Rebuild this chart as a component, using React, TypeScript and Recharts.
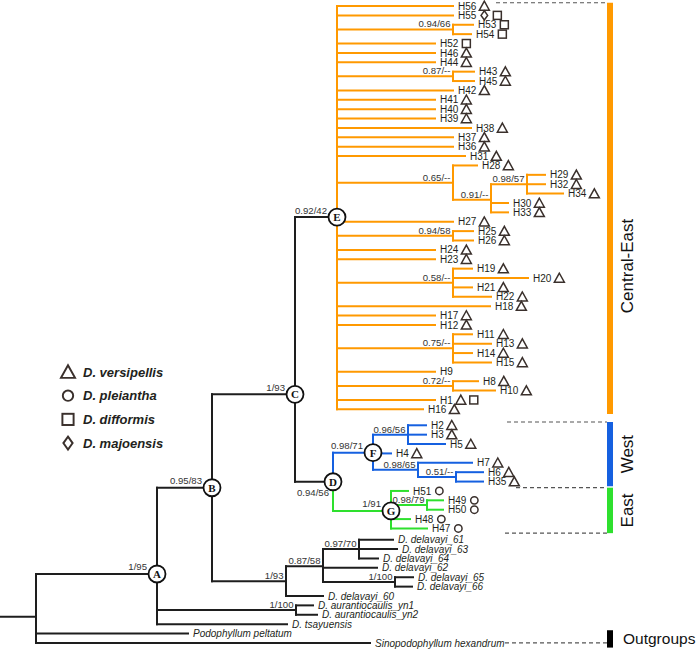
import React from 'react';
import { ScatterChart, XAxis, YAxis, Scatter, ReferenceLine, ReferenceArea } from 'recharts';

// internal nodes: [id, parent, depth from root]
const INTERNAL_NODES: [string, string | null, number][] = [
  ['root', null, 0],
  ['O', 'root', 36],
  ['A', 'O', 157],
  ['B', 'A', 212],
  ['C', 'B', 295],
  ['E', 'C', 337],
  ['D', 'C', 333],
  ['F', 'D', 373],
  ['G', 'D', 391],
  ['e1', 'E', 453],
  ['e2', 'E', 453],
  ['e3', 'E', 453],
  ['e4', 'e3', 491],
  ['e5', 'e4', 527],
  ['e6', 'E', 453],
  ['e7', 'E', 453],
  ['e8', 'E', 453],
  ['e9', 'E', 453],
  ['f1', 'F', 408],
  ['f2', 'F', 418],
  ['f3', 'f2', 456],
  ['g1', 'G', 427],
  ['dl', 'B', 286],
  ['d2', 'dl', 323],
  ['d3', 'd2', 359],
  ['d4', 'd2', 395],
  ['au', 'A', 296],
];

// tips top to bottom: [name, parent, depth, species marks]
// T = D. versipellis, C = D. pleiantha, S = D. difformis, M = D. majoensis
const LEAVES: [string, string, number, string][] = [
  ['H56', 'E', 453, 'T'],
  ['H55', 'E', 453, 'MS'],
  ['H53', 'e1', 473, 'S'],
  ['H54', 'e1', 471, 'S'],
  ['H52', 'E', 435, 'S'],
  ['H46', 'E', 435, 'T'],
  ['H44', 'E', 435, 'T'],
  ['H43', 'e2', 474, 'T'],
  ['H45', 'e2', 474, 'T'],
  ['H42', 'E', 453, 'T'],
  ['H41', 'E', 435, 'T'],
  ['H40', 'E', 435, 'T'],
  ['H39', 'E', 435, 'T'],
  ['H38', 'E', 471, 'T'],
  ['H37', 'E', 453, 'T'],
  ['H36', 'E', 453, 'T'],
  ['H31', 'E', 465, 'T'],
  ['H28', 'e3', 477, 'T'],
  ['H29', 'e5', 545, 'T'],
  ['H32', 'e5', 545, 'T'],
  ['H34', 'e5', 563, 'T'],
  ['H30', 'e4', 508, 'T'],
  ['H33', 'e4', 508, 'T'],
  ['H27', 'E', 453, 'T'],
  ['H25', 'e6', 473, 'T'],
  ['H26', 'e6', 473, 'T'],
  ['H24', 'E', 435, 'T'],
  ['H23', 'E', 435, 'T'],
  ['H19', 'e7', 472, 'T'],
  ['H20', 'e7', 528, 'T'],
  ['H21', 'e7', 472, 'T'],
  ['H22', 'e7', 491, 'T'],
  ['H18', 'E', 490, 'T'],
  ['H17', 'E', 435, 'T'],
  ['H12', 'E', 435, 'T'],
  ['H11', 'e8', 472, 'T'],
  ['H13', 'e8', 491, 'T'],
  ['H14', 'e8', 472, 'T'],
  ['H15', 'e8', 491, 'T'],
  ['H9', 'E', 435, ''],
  ['H8', 'e9', 478, 'T'],
  ['H10', 'e9', 495, 'T'],
  ['H1', 'E', 435, 'TS'],
  ['H16', 'E', 423, 'T'],
  ['H2', 'f1', 426, 'T'],
  ['H3', 'f1', 426, 'T'],
  ['H5', 'f1', 445, 'T'],
  ['H4', 'F', 391, 'T'],
  ['H7', 'f2', 472, 'T'],
  ['H6', 'f3', 483, 'T'],
  ['H35', 'f3', 483, 'T'],
  ['H51', 'G', 408, 'C'],
  ['H49', 'g1', 443, 'C'],
  ['H50', 'g1', 443, 'C'],
  ['H48', 'G', 410, 'C'],
  ['H47', 'G', 427, 'C'],
  ['D. delavayi_61', 'd3', 393, ''],
  ['D. delavayi_63', 'd3', 397, ''],
  ['D. delavayi_64', 'd3', 378, ''],
  ['D. delavayi_62', 'd2', 377, ''],
  ['D. delavayi_65', 'd4', 413, ''],
  ['D. delavayi_66', 'd4', 412, ''],
  ['D. delavayi_60', 'dl', 323, ''],
  ['D. aurantiocaulis_yn1', 'au', 313, ''],
  ['D. aurantiocaulis_yn2', 'au', 317, ''],
  ['D. tsayuensis', 'A', 287, ''],
  ['Podophyllum peltatum', 'O', 188, ''],
  ['Sinopodophyllum hexandrum', 'O', 370, ''],
];

// posterior probability / bootstrap
const SUPPORT: Record<string, string> = {
  A: '1/95', B: '0.95/83', C: '1/93', D: '0.94/56', E: '0.92/42', F: '0.98/71', G: '1/91',
  e1: '0.94/66', e2: '0.87/--', e3: '0.65/--', e4: '0.91/--', e5: '0.98/57', e6: '0.94/58',
  e7: '0.58/--', e8: '0.75/--', e9: '0.72/--',
  f1: '0.96/56', f2: '0.98/65', f3: '0.51/--', g1: '0.98/79',
  dl: '1/93', d2: '0.87/58', d3: '0.97/70', d4: '1/100', au: '1/100',
};

const CLADE_LETTERS = ['A', 'B', 'C', 'D', 'E', 'F', 'G'];

// extra spacing after some tips, and rows of nodes moved by hand in the figure
const ROW_GAPS: Record<string, number> = { H16: 0.7, H47: 0.2 };
const ROW_OVERRIDES: Record<string, number> = { E: 22.5, C: 41.4 };

const GROUPS = [
  { name: 'Central-East', first: 'H56', last: 'H16' },
  { name: 'West', first: 'H2', last: 'H35' },
  { name: 'East', first: 'H51', last: 'H47' },
  { name: 'Outgroups', first: 'Podophyllum peltatum', last: 'Sinopodophyllum hexandrum' },
];

const LEGEND_ITEMS = [
  { mark: 'T', label: 'D. versipellis' },
  { mark: 'C', label: 'D. pleiantha' },
  { mark: 'S', label: 'D. difformis' },
  { mark: 'M', label: 'D. majoensis' },
];

// ---- styles / layout
const ORANGE = '#FF9900';
const BLUE = '#1560E0';
const GREEN = '#2EE02E';
const BLACK = '#1e1e1e';
const MARK = '#3a302c';
const GROUP_COLORS: Record<string, string> = {
  'Central-East': ORANGE, West: BLUE, East: GREEN, Outgroups: '#000',
};
const W = 697;
const H = 650;
const ROW_PX = 9.38;
const TOP_PX = 6;
const FONT = '"Liberation Sans", Arial, sans-serif';

// ---- tree layout
const parentOf: Record<string, string | null> = {};
const depthOf: Record<string, number> = {};
const children: Record<string, string[]> = {};
INTERNAL_NODES.forEach(([id, p, d]) => {
  parentOf[id] = p;
  depthOf[id] = d;
  if (p) (children[p] = children[p] || []).push(id);
});
const rowOf: Record<string, number> = {};
let gap = 0;
LEAVES.forEach(([name, p, d], i) => {
  parentOf[name] = p;
  depthOf[name] = d;
  (children[p] = children[p] || []).push(name);
  rowOf[name] = i + gap;
  gap += ROW_GAPS[name] ?? 0;
});
const calcRow = (id: string): number => {
  if (rowOf[id] !== undefined) return rowOf[id];
  const ks = children[id].map(calcRow);
  rowOf[id] = ROW_OVERRIDES[id] ?? ks.reduce((a, b) => a + b, 0) / ks.length;
  return rowOf[id];
};
calcRow('root');

const branchColor = (id: string) => {
  let cur: string | null = id;
  while (cur) {
    if (cur === 'F') return BLUE;
    if (cur === 'G') return GREEN;
    const p: string | null = parentOf[cur];
    if (p === 'E') return ORANGE;
    cur = p;
  }
  return BLACK;
};

const segments: { a: any; b: any; color: string }[] = [];
Object.keys(parentOf).forEach((id) => {
  const p = parentOf[id];
  if (!p) return;
  const color = branchColor(id);
  if (rowOf[p] !== rowOf[id]) {
    segments.push({ a: { x: depthOf[p], y: rowOf[p] }, b: { x: depthOf[p], y: rowOf[id] }, color });
  }
  segments.push({ a: { x: depthOf[p], y: rowOf[id] }, b: { x: depthOf[id], y: rowOf[id] }, color });
});

const leafPoints = LEAVES.map(([name, , , marks]) => ({ x: depthOf[name], y: rowOf[name], name, marks }));
const supportPoints = Object.keys(SUPPORT).map((id) => ({ x: depthOf[id], y: rowOf[id], id, text: SUPPORT[id] }));
const letterPoints = CLADE_LETTERS.map((id) => ({ x: depthOf[id], y: rowOf[id], id }));

const groupBars = GROUPS.map((g) => ({ ...g, top: rowOf[g.first] - 0.35, bottom: rowOf[g.last] + 0.5 }));
const barOf = (n: string) => groupBars.find((g) => g.name === n)!;
const DASH_LINES = [
  { row: barOf('Central-East').top, from: 496 },
  { row: barOf('West').top, from: 507 },
  { row: barOf('East').top, from: 516 },
  { row: barOf('East').bottom, from: 505 },
  { row: rowOf['Sinopodophyllum hexandrum'], from: 505 },
];
const BAR_X = [607, 613];

const textWidth = (s: string) =>
  s.split('').reduce((w, c) => w + (c === 'H' ? 7.22 : 5.56), 0);

const Mark = ({ kind, x, y, k = 1 }: { kind: string; x: number; y: number; k?: number }) => {
  const sw = 1.5 * (k > 1 ? 1.3 : 1);
  if (kind === 'T')
    return <polygon points={`${x},${y - 4.8 * k} ${x - 5 * k},${y + 4.2 * k} ${x + 5 * k},${y + 4.2 * k}`} fill="none" stroke={MARK} strokeWidth={sw} strokeLinejoin="miter" />;
  if (kind === 'S')
    return <rect x={x - 4 * k} y={y - 4 * k} width={8 * k} height={8 * k} fill="none" stroke={MARK} strokeWidth={sw} />;
  if (kind === 'C') return <circle cx={x} cy={y} r={3.7 * k} fill="none" stroke={MARK} strokeWidth={sw} />;
  return <polygon points={`${x},${y - 4.6 * k} ${x + 3.3 * k},${y} ${x},${y + 4.6 * k} ${x - 3.3 * k},${y}`} fill="none" stroke={MARK} strokeWidth={sw} />;
};

const LeafShape = (props: any) => {
  const { cx, cy, payload } = props;
  const isHap = /^H\d/.test(payload.name);
  const tx = cx + 5;
  const mx = tx + textWidth(payload.name) + 8;
  return (
    <g>
      <text x={tx} y={cy + 3.6} fontSize={10} fontFamily={FONT} fontStyle={isHap ? 'normal' : 'italic'} fill="#231f20">
        {payload.name}
      </text>
      {isHap && payload.marks.split('').map((m: string, i: number) => <Mark key={i} kind={m} x={mx + i * 13} y={cy} />)}
    </g>
  );
};

const SupportShape = (props: any) => {
  const { cx, cy, payload } = props;
  const circled = CLADE_LETTERS.includes(payload.id);
  let dx = circled ? -10 : -2.5;
  let dy = circled ? -3.5 : -2;
  if (payload.id === 'D') { dx = -4; dy = 14.5; }
  return (
    <text x={cx + dx} y={cy + dy} textAnchor="end" fontSize={9.6} fontFamily={FONT} fill="#333">
      {payload.text}
    </text>
  );
};

const LetterShape = (props: any) => {
  const { cx, cy, payload } = props;
  return (
    <g>
      <circle cx={cx} cy={cy} r={8.5} fill="#fff" stroke="#111" strokeWidth={1.8} />
      <text x={cx} y={cy + 4} textAnchor="middle" fontSize={11} fontWeight="bold" fontFamily='"Liberation Serif", "Times New Roman", serif' fill="#111">
        {payload.id}
      </text>
    </g>
  );
};

const GroupLabel = (name: string, frac: number) => (props: any) => {
  const vb = props.viewBox ?? props;
  const x = vb.x + vb.width;
  if (name === 'Outgroups') {
    return (
      <text x={x + 10} y={vb.y + vb.height / 2 + 5} fontSize={15.5} fontFamily={FONT} fill="#111">
        {name}
      </text>
    );
  }
  const y = vb.y + vb.height * frac;
  return (
    <text transform={`translate(${x + 14},${y}) rotate(-90)`} textAnchor="middle" dominantBaseline="central" fontSize={17} fontFamily={FONT} fill="#111">
      {name}
    </text>
  );
};

export default function App() {
  return (
    <div style={{ position: 'absolute', left: 0, top: 0, width: W, height: H, background: '#fff' }}>
      <ScatterChart width={W} height={H} margin={{ top: 0, right: 0, bottom: 0, left: 0 }}>
        <XAxis type="number" dataKey="x" domain={[0, W]} allowDataOverflow hide />
        <YAxis type="number" dataKey="y" domain={[-TOP_PX / ROW_PX, (H - TOP_PX) / ROW_PX]} allowDataOverflow reversed hide />
        {segments.map((s, i) => (
          <ReferenceLine key={`b${i}`} segment={[s.a, s.b]} stroke={s.color} strokeWidth={2} strokeLinecap="square" ifOverflow="visible" />
        ))}
        {DASH_LINES.map((d, i) => (
          <ReferenceLine key={`d${i}`} segment={[{ x: d.from, y: d.row }, { x: BAR_X[0], y: d.row }]} stroke="#555" strokeWidth={1.1} strokeDasharray="4 3" ifOverflow="visible" />
        ))}
        {groupBars.map((g) => (
          <ReferenceArea
            key={g.name}
            x1={BAR_X[0]}
            x2={BAR_X[1]}
            y1={g.top}
            y2={g.bottom}
            fill={GROUP_COLORS[g.name]}
            fillOpacity={1}
            stroke="none"
            ifOverflow="visible"
            label={GroupLabel(g.name, g.name === 'Central-East' ? 0.64 : 0.5)}
          />
        ))}
        <Scatter data={leafPoints} shape={LeafShape} isAnimationActive={false} />
        <Scatter data={supportPoints} shape={SupportShape} isAnimationActive={false} />
        <Scatter data={letterPoints} shape={LetterShape} isAnimationActive={false} />
      </ScatterChart>
      <svg width={200} height={100} style={{ position: 'absolute', left: 55, top: 358 }}>
        {LEGEND_ITEMS.map((it, i) => (
          <g key={it.label}>
            <Mark kind={it.mark} x={13} y={14 + i * 23.7} k={1.4} />
            <text x={28} y={18.5 + i * 23.7} fontSize={13} fontWeight="bold" fontStyle="italic" fontFamily={FONT} fill="#231f20">
              {it.label}
            </text>
          </g>
        ))}
      </svg>
    </div>
  );
}
